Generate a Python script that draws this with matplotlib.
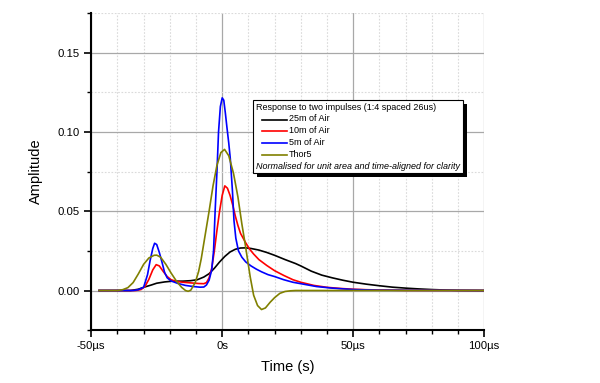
import matplotlib
matplotlib.use("Agg")
import matplotlib.pyplot as plt
from matplotlib.ticker import MultipleLocator, FixedLocator, FixedFormatter
from matplotlib.offsetbox import AnchoredOffsetbox, VPacker, HPacker, TextArea, DrawingArea
from matplotlib.lines import Line2D
from matplotlib.patches import Rectangle

plt.rcParams['font.family'] = ['Liberation Sans', 'DejaVu Sans']

# ---- data (time in microseconds, amplitude) ----
t_black = [-47, -35, -32, -30, -27, -25, -22, -19, -15, -12, -9.5, -7, -5, -3, -1, 1, 3, 5, 7, 9, 11,
           14, 17, 20, 24, 28, 30, 34, 38, 42, 46, 50, 55, 60, 65, 70, 75, 80, 85, 90, 100]
a_black = [0, 0, 0.0008, 0.002, 0.0035, 0.0046, 0.0054, 0.0059, 0.0059, 0.0062, 0.0068, 0.0085, 0.0106,
           0.0140, 0.0180, 0.0215, 0.0243, 0.0260, 0.0268, 0.0269, 0.0265, 0.0255, 0.0240, 0.0222, 0.0195,
           0.0170, 0.0155, 0.0122, 0.0097, 0.0080, 0.0065, 0.0052, 0.0040, 0.0030, 0.0021, 0.0015, 0.0010,
           0.0006, 0.0003, 0.0001, 0]

t_red = [-47, -33, -31, -29.5, -28, -26.5, -25.2, -24, -22.5, -21, -19.5, -17.5, -15, -12, -9, -7, -6, -5,
         -4, -3, -2, -1, 0, 1, 2, 3, 4, 5, 6, 7, 8, 9, 10.5, 12, 14, 17, 20, 23.5, 27, 30, 35, 40, 45, 50,
         55, 60, 70, 100]
a_red = [0, 0, 0.0006, 0.0025, 0.0070, 0.0130, 0.0163, 0.0155, 0.0120, 0.0088, 0.0068, 0.0057, 0.0052,
         0.0048, 0.0044, 0.0043, 0.0050, 0.0080, 0.0140, 0.0250, 0.0380, 0.0500, 0.0600, 0.0660, 0.0645,
         0.0600, 0.0540, 0.0470, 0.0410, 0.0360, 0.0330, 0.0300, 0.0260, 0.0230, 0.0195, 0.0158, 0.0125,
         0.0095, 0.0068, 0.0052, 0.0032, 0.0020, 0.0013, 0.0008, 0.0005, 0.0003, 0.0001, 0]

t_blue = [-47, -34, -32, -30, -28.5, -27.5, -26.5, -25.8, -25, -24, -23, -22, -21, -19.5, -17, -14, -11,
          -8.5, -7, -6, -5, -4, -3.3, -2.7, -2, -1.4, -0.7, 0, 0.6, 1.2, 1.8, 2.5, 3.1, 3.9, 4.5, 5.2, 6.2,
          7.5, 9, 11, 13, 15, 17.5, 20, 23.5, 27, 31, 36, 42, 50, 60, 100]
a_blue = [0, 0, 0.0005, 0.002, 0.0100, 0.0190, 0.0265, 0.0298, 0.0290, 0.0240, 0.0180, 0.0115, 0.0080,
          0.0060, 0.0045, 0.0032, 0.0025, 0.0021, 0.0022, 0.0035, 0.0065, 0.0130, 0.0250, 0.0500, 0.0750,
          0.1000, 0.1160, 0.1215, 0.1200, 0.1120, 0.1030, 0.0930, 0.0830, 0.0630, 0.0440, 0.0330, 0.0250,
          0.0210, 0.0180, 0.0155, 0.0135, 0.0118, 0.0100, 0.0088, 0.0068, 0.0052, 0.0040, 0.0025, 0.0015,
          0.0006, 0.0002, 0]

t_olive = [-47, -40, -38, -36, -34, -32, -30, -28, -26, -25, -23.5, -21.5, -19.5, -17.5, -15.5, -14, -13,
           -12, -10.3, -9, -8, -6.5, -5, -3.5, -2, -0.5, 0.9, 2.5, 4.3, 6, 7.5, 8.8, 10, 10.7, 12, 13.5, 15,
           16.5, 18.3, 20, 22, 24, 26, 28, 100]
a_olive = [0, 0, 0.0005, 0.0018, 0.0050, 0.0105, 0.0165, 0.0205, 0.0222, 0.0223, 0.0210, 0.0165, 0.0110,
           0.0060, 0.0020, 0.0000, -0.0005, 0.0002, 0.0050, 0.0120, 0.0200, 0.0350, 0.0500, 0.0660, 0.0790,
           0.0870, 0.0890, 0.0850, 0.0740, 0.0590, 0.0420, 0.0290, 0.0160, 0.0085, -0.0030, -0.0095,
           -0.0120, -0.0110, -0.0074, -0.0045, -0.0018, -0.0006, -0.0002, 0, 0]

names = ["25m of Air", "10m of Air", "5m of Air", "Thor5"]
colors = ["#000000", "#ff0000", "#0000ff", "#808000"]
times = [t_black, t_red, t_blue, t_olive]
amps = [a_black, a_red, a_blue, a_olive]

legend_title = "Response to two impulses (1:4 spaced 26us)"
legend_note = "Normalised for unit area and time-aligned for clarity"
x_ticks = [-50, 0, 50, 100]
x_ticklabels = ["-50µs", "0s", "50µs", "100µs"]

fig = plt.figure(figsize=(6.0, 3.83), dpi=100)
ax = fig.add_axes([0.152, 0.138, 0.655, 0.828])

for t, a, c in zip(times, amps, colors):
    ax.plot(t, a, color=c, lw=1.2, zorder=3)

ax.set_xlim(-50, 100)
ax.set_ylim(-0.025, 0.175)

ax.xaxis.set_major_locator(FixedLocator(x_ticks))
ax.xaxis.set_major_formatter(FixedFormatter(x_ticklabels))
ax.xaxis.set_minor_locator(MultipleLocator(10))
ax.yaxis.set_major_locator(MultipleLocator(0.05))
ax.yaxis.set_minor_locator(MultipleLocator(0.025))
ax.yaxis.set_major_formatter(matplotlib.ticker.FormatStrFormatter('%.2f'))

ax.grid(which='major', color='#a8a8a8', lw=0.9, ls='-', zorder=0)
ax.grid(which='minor', color='#dadada', lw=0.8, ls=(0, (1.5, 1.5)), zorder=0)
ax.set_axisbelow(True)

for s in ['top', 'right']:
    ax.spines[s].set_visible(False)
for s in ['left', 'bottom']:
    ax.spines[s].set_linewidth(1.5)

ax.tick_params(which='major', direction='out', length=5, width=1.2, labelsize=8.2, colors='black')
ax.tick_params(which='minor', direction='out', length=3, width=1.0)
ax.tick_params(axis='x', pad=3)

ax.set_xlabel("Time (s)", fontsize=10.5, labelpad=6)
ax.set_ylabel("Amplitude", fontsize=10.5, labelpad=10)

# ---- legend box ----
fs = 6.5
rows = [TextArea(legend_title, textprops=dict(size=fs))]
for n, c in zip(names, colors):
    pad = DrawingArea(3.5, 6)
    da = DrawingArea(18, 6)
    da.add_artist(Line2D([0, 18], [2.5, 2.5], color=c, lw=1.2))
    rows.append(HPacker(children=[pad, da, TextArea(n, textprops=dict(size=fs))],
                        pad=0, sep=1, align='center'))
rows.append(TextArea(legend_note, textprops=dict(size=fs, style='italic')))
box = VPacker(children=rows, align='left', pad=0, sep=2.0)
anch = AnchoredOffsetbox(loc='upper left', child=box, pad=0.2, frameon=True,
                         bbox_to_anchor=(0.412, 0.726), bbox_transform=ax.transAxes,
                         borderpad=0)
anch.patch.set_boxstyle('square', pad=0)
anch.patch.set_edgecolor('black')
anch.patch.set_linewidth(0.8)
anch.set_zorder(6)
ax.add_artist(anch)

fig.canvas.draw()
bb = anch.get_window_extent(fig.canvas.get_renderer())
shadow = Rectangle((bb.x0 + 4, bb.y0 - 4), bb.width, bb.height, transform=None,
                   facecolor='black', edgecolor='none', zorder=5)
ax.add_artist(shadow)

fig.savefig("out.png", dpi=100)
